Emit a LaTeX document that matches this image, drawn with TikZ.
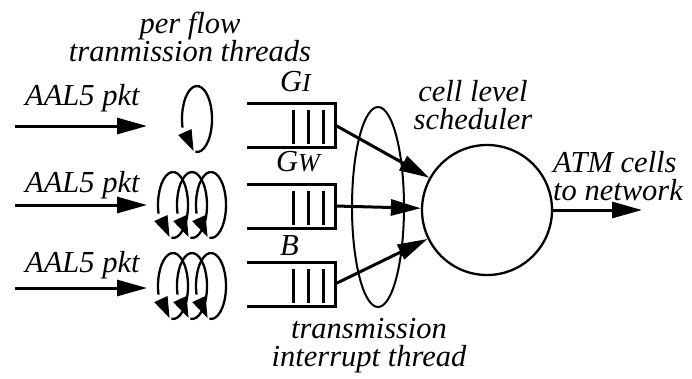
\documentclass[tikz,border=0pt]{standalone}
\usepackage{fontspec}
\setmainfont{Liberation Serif}
\usetikzlibrary{arrows.meta, bending, positioning, shapes.geometric}

\begin{document}
\begin{tikzpicture}[
                x=1pt, y=1pt,
                >={Triangle[length=30pt, width=16pt]},
                arr/.style={
                    ->,
                    line width=3pt
                },
                thread/.style={
                    line width=2.3pt,
                    -{Triangle[length=21pt, width=14pt]}
                },
                queue/.style={
                    line width=3pt
                },
                lbl/.style={
                    font=\fontsize{30.5}{28}\selectfont\itshape,
                    inner sep=0pt
                }
            ]
                \useasboundingbox (0,0) rectangle (692,-378);

                % scheduler and interrupt thread
                \node[draw, circle, line width=2.3pt, minimum size=130pt, inner sep=0pt] (sched) at (487,-210) {};
                \node[draw, ellipse, line width=2pt, minimum width=52pt, minimum height=200pt, inner sep=0pt] (intr) at (378,-207) {};

                % per flow queues
                \foreach \n/\y in {1/125, 2/206, 3/284} {
                    \draw[queue] (247,{-\y+22}) -| (335,{-\y-22}) -- (247,{-\y-22});
                    \foreach \b in {293, 308, 323}
                        \draw[queue] (\b,{-\y+15}) -- (\b,{-\y-19});
                    \coordinate (q\n) at (335,-\y);
                    \draw[arr] (q\n) -- (sched);
                }

                % transmission threads
                \foreach \x/\y in {197/119, 173/205, 192/205, 211/205, 173/286, 192/286, 211/286}
                    \draw[thread] (\x,-\y) ++(264:15 and 33) arc[start angle=264, end angle=617, x radius=15, y radius=33];

                % incoming packets
                \foreach \n/\y in {1/126, 2/205, 3/288} {
                    \coordinate (src\n) at (15,-\y);
                    \coordinate (dst\n) at (147,-\y);
                    \draw[arr] (src\n) -- (dst\n);
                }
                \node[lbl, anchor=base west] (pkt1) at (25,-105) {AAL5 pkt};
                \node[lbl, anchor=base west] (pkt2) at (25,-192) {AAL5 pkt};
                \node[lbl, anchor=base west] (pkt3) at (25,-272) {AAL5 pkt};

                \node[lbl, anchor=base west] (gi) at (280,-91) {G{\fontsize{26}{26}\selectfont I}};
                \node[lbl, anchor=base west] (gw) at (276,-171) {G{\fontsize{26}{26}\selectfont W}};
                \node[lbl, anchor=base west] (be) at (280,-255) {B};

                \node[lbl, align=center, anchor=north] (threads) at (190,-12) {per flow\\tranmission threads};
                \node[lbl, align=center, anchor=north] (cell) at (473,-80) {cell level\\scheduler};
                \node[lbl, align=left, anchor=north west] (atm) at (553,-151) {ATM cells\\to network};
                \node[lbl, align=center, anchor=north] (tit) at (369,-318) {transmission\\interrupt thread};

                \coordinate (out) at (642,-210);
                \draw[arr] (sched) -- (out);
            \end{tikzpicture}
\end{document}
